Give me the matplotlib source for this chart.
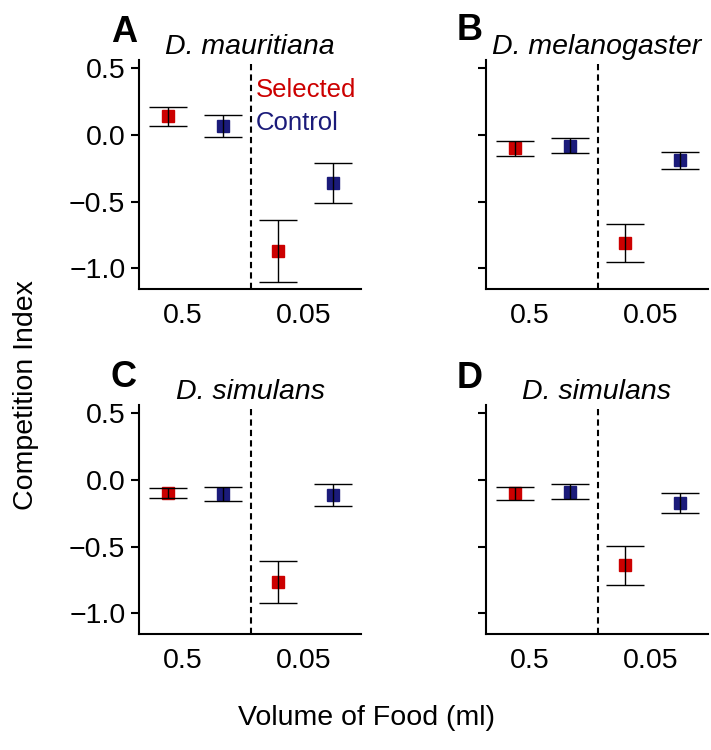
"""
Competition index of selected vs control lines at two food volumes (4 panels).
"""
import numpy as np
import matplotlib
matplotlib.use("Agg")
import matplotlib.pyplot as plt

plt.rcParams["font.family"] = ["Liberation Sans", "DejaVu Sans"]

# ── data ──
food_labels = ["0.5", "0.05"]
panel_letters = ["A", "B", "C", "D"]
species = ["D. mauritiana", "D. melanogaster", "D. simulans", "D. simulans"]

sel_mean = [[0.14, -0.87], [-0.10, -0.81], [-0.10, -0.765], [-0.10, -0.64]]
sel_err = [[0.07, 0.23], [0.055, 0.14], [0.038, 0.157], [0.05, 0.147]]
ctl_mean = [[0.07, -0.36], [-0.08, -0.19], [-0.105, -0.11], [-0.087, -0.172]]
ctl_err = [[0.083, 0.153], [0.056, 0.062], [0.054, 0.082], [0.055, 0.072]]

yticks = [0.5, 0.0, -0.5, -1.0]

RED = "#CC0000"
NAVY = "#1B1B7A"
FS = 20.5


def draw_panel(ax, k, show_ylabels):
    x_sel = np.arange(len(food_labels)) * 2 + 1
    x_ctl = x_sel + 1

    # markers under, error bars drawn on top (as in the original)
    ax.plot(x_sel, sel_mean[k], "s", color=RED, ms=8, zorder=2)
    ax.plot(x_ctl, ctl_mean[k], "s", color=NAVY, ms=8, zorder=2)
    for xs, m, e in ((x_sel, sel_mean[k], sel_err[k]), (x_ctl, ctl_mean[k], ctl_err[k])):
        ax.errorbar(xs, m, yerr=e, fmt="none", ecolor="black", elinewidth=1.0,
                    capsize=13.5, capthick=1.0, zorder=3)

    ax.axvline(2.5, color="black", lw=1.5, ls=(0, (3, 2)), zorder=1)

    ax.set_xlim(0.48, 4.5)
    ax.set_ylim(-1.156, 0.563)
    ax.set_yticks(yticks)
    if show_ylabels:
        ax.set_yticklabels([f"{v:.1f}".replace("-", "\u2212") for v in yticks], fontsize=FS)
    else:
        ax.set_yticklabels([])
    ax.set_xticks([1.27, 3.47])
    ax.set_xticklabels(food_labels, fontsize=FS)

    ax.tick_params(axis="y", length=5.8, width=1.5, pad=4)
    ax.tick_params(axis="x", length=0, pad=10)
    for s in ("top", "right"):
        ax.spines[s].set_visible(False)
    for s in ("left", "bottom"):
        ax.spines[s].set_linewidth(1.5)

    ax.set_title(species[k], fontsize=FS, fontstyle="italic", pad=3.5)


def main():
    fig = plt.figure(figsize=(7.11, 7.5), dpi=100)

    W, H = 711.0, 750.0
    lefts = [139, 486]
    tops = [60, 405]
    w, h = 222, 229

    axes = []
    for r, top in enumerate(tops):
        for c, left in enumerate(lefts):
            ax = fig.add_axes([left / W, 1 - (top + h) / H, w / W, h / H])
            axes.append(ax)
            draw_panel(ax, r * 2 + c, show_ylabels=(c == 0))

    # ── panel letters ──
    letter_pos = [(124, 42), (470, 40), (123, 387), (470, 388)]
    for (px, py), lab in zip(letter_pos, panel_letters):
        fig.text(px / W, 1 - py / H, lab, fontsize=26, fontweight="bold",
                 ha="center", va="baseline")

    # ── legend-style labels in panel A ──
    axes[0].text(0.525, 0.839, "Selected", color=RED, fontsize=18.5,
                 transform=axes[0].transAxes, ha="left", va="baseline")
    axes[0].text(0.525, 0.693, "Control", color=NAVY, fontsize=18.5,
                 transform=axes[0].transAxes, ha="left", va="baseline")

    # ── shared axis labels ──
    fig.text(26 / W, 1 - 395 / H, "Competition Index", fontsize=FS,
             rotation=90, ha="center", va="center")
    fig.text(366 / W, 1 - 718 / H, "Volume of Food (ml)", fontsize=FS,
             ha="center", va="center")

    fig.savefig("out.png", dpi=100)


if __name__ == "__main__":
    main()
